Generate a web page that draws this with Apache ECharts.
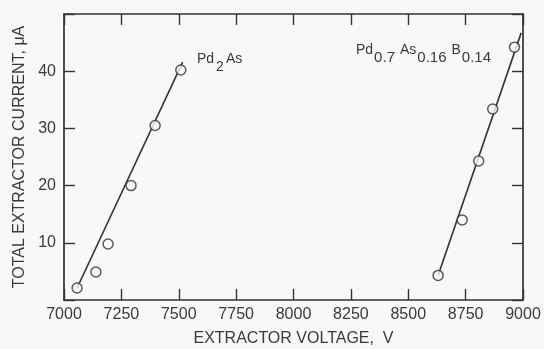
<!DOCTYPE html>
<html>
<head>
<meta charset="utf-8">
<script src="https://cdn.jsdelivr.net/npm/echarts@6/dist/echarts.min.js"></script>
<style>
  html, body { margin: 0; padding: 0; background: #f8f8f6; }
  #chart { width: 544px; height: 349px; }
</style>
</head>
<body>
<div id="chart"></div>
<script>
// Measured points: extractor voltage (V) vs total extractor current (uA)
const pd2AsVoltage = [7057, 7139, 7192, 7292, 7397, 7509];
const pd2AsCurrent = [2.1, 4.9, 9.8, 20.0, 30.5, 40.2];
const pdAsBVoltage = [8630, 8735, 8807, 8868, 8963];
const pdAsBCurrent = [4.3, 14.0, 24.3, 33.4, 44.2];

// Straight lines drawn through each data set (end points)
const pd2AsFitVoltage = [7057, 7517];
const pd2AsFitCurrent = [2.1, 41.6];
const pdAsBFitVoltage = [8630, 8992];
const pdAsBFitCurrent = [4.3, 46.7];

// Axis ticks
const voltageTicks = [7000, 7250, 7500, 7750, 8000, 8250, 8500, 8750, 9000];
const currentTicks = [10, 20, 30, 40];

const ink = '#333333';
const textInk = '#3a3a3a';
const paper = '#f8f8f6';
const fontFamily = '"Liberation Sans", Arial, Helvetica, sans-serif';

const pairs = (xs, ys) => xs.map((x, i) => [x, ys[i]]);

const xStep = voltageTicks[1] - voltageTicks[0];
const yStep = currentTicks[1] - currentTicks[0];

const chart = echarts.init(document.getElementById('chart'), null, { renderer: 'canvas' });

const tickStyle = { show: true, inside: true, length: 11, lineStyle: { color: ink, width: 1.4 } };
const lineStyle = { show: true, onZero: false, lineStyle: { color: ink, width: 1.7 } };

const option = {
  backgroundColor: paper,
  animation: false,
  grid: { left: 64, right: 21, top: 14, bottom: 49, containLabel: false, outerBoundsMode: 'none' },
  textStyle: { fontFamily: fontFamily },
  xAxis: [
    {
      type: 'value',
      position: 'bottom',
      min: voltageTicks[0],
      max: voltageTicks[voltageTicks.length - 1],
      interval: xStep,
      axisLine: lineStyle,
      axisTick: tickStyle,
      splitLine: { show: false },
      axisLabel: { color: textInk, fontSize: 16, margin: 7, fontFamily: fontFamily,
                   formatter: v => voltageTicks.includes(v) ? String(v) : '' },
      name: 'EXTRACTOR VOLTAGE,  V',
      nameLocation: 'middle',
      nameGap: 31,
      nameTextStyle: { color: textInk, fontSize: 16, fontFamily: fontFamily }
    },
    {
      type: 'value',
      position: 'top',
      min: voltageTicks[0],
      max: voltageTicks[voltageTicks.length - 1],
      interval: xStep,
      axisLine: lineStyle,
      axisTick: tickStyle,
      axisLabel: { show: false },
      splitLine: { show: false }
    }
  ],
  yAxis: [
    {
      type: 'value',
      position: 'left',
      min: 0,
      max: 50,
      interval: yStep,
      axisLine: lineStyle,
      axisTick: tickStyle,
      splitLine: { show: false },
      axisLabel: { color: textInk, fontSize: 16, margin: 8, fontFamily: fontFamily,
                   formatter: v => currentTicks.includes(v) ? String(v) : '' },
      name: 'TOTAL EXTRACTOR CURRENT, \u03bcA',
      nameLocation: 'middle',
      nameRotate: 90,
      nameGap: 32,
      nameTextStyle: { color: textInk, fontSize: 16, fontFamily: fontFamily }
    },
    {
      type: 'value',
      position: 'right',
      min: 0,
      max: 50,
      interval: yStep,
      axisLine: lineStyle,
      axisTick: tickStyle,
      axisLabel: { show: false },
      splitLine: { show: false }
    }
  ],
  series: [
    {
      type: 'line',
      data: pairs(pd2AsFitVoltage, pd2AsFitCurrent),
      showSymbol: false,
      lineStyle: { color: ink, width: 1.6 },
      z: 2
    },
    {
      type: 'line',
      data: pairs(pdAsBFitVoltage, pdAsBFitCurrent),
      showSymbol: false,
      lineStyle: { color: ink, width: 1.6 },
      z: 2
    },
    {
      type: 'scatter',
      data: pairs(pd2AsVoltage, pd2AsCurrent),
      symbol: 'circle',
      symbolSize: 10,
      itemStyle: { color: paper, borderColor: ink, borderWidth: 1.5 },
      z: 3
    },
    {
      type: 'scatter',
      data: pairs(pdAsBVoltage, pdAsBCurrent),
      symbol: 'circle',
      symbolSize: 10,
      itemStyle: { color: paper, borderColor: ink, borderWidth: 1.5 },
      z: 3
    }
  ],
  graphic: [
    {
      type: 'text',
      left: 197,
      top: 44,
      style: {
        text: '{m|Pd}{s|2}{m|As}',
        fill: textInk,
        rich: {
          m: { fontSize: 14, fontFamily: fontFamily, color: textInk, lineHeight: 15 },
          s: { fontSize: 14, fontFamily: fontFamily, color: textInk, lineHeight: 15, padding: [16, 2, 0, 2] }
        }
      }
    },
    {
      type: 'text',
      left: 356,
      top: 36,
      style: {
        text: '{m|Pd}{s|0.7}{m|As}{s|0.16}{m|B}{s|0.14}',
        fill: textInk,
        rich: {
          m: { fontSize: 14, fontFamily: fontFamily, color: textInk, lineHeight: 15 },
          s: { fontSize: 15, fontFamily: fontFamily, color: textInk, lineHeight: 15, padding: [14, 5, 0, 1] }
        }
      }
    }
  ]
};

chart.setOption(option);
</script>
</body>
</html>
